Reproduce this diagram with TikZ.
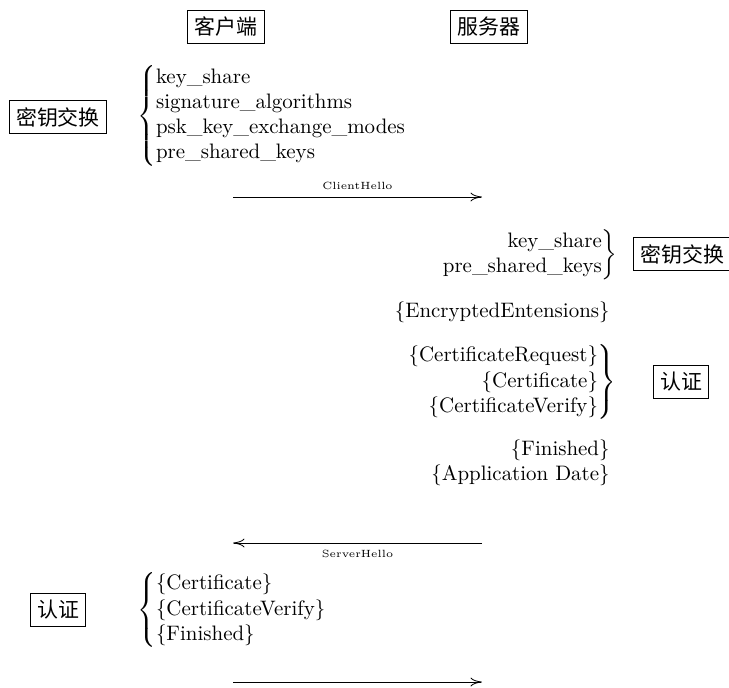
\documentclass[tikz,border=0pt]{standalone}
\usepackage{fontspec}
\usepackage{amsmath}
\newfontfamily\cjk{Noto Sans CJK SC}
\usetikzlibrary{arrows.meta}
\begin{document}
\begin{tikzpicture}[x=0.478pt,y=-0.478pt,
  cjkbox/.style={draw, font=\cjk, inner sep=3.33pt},
  txt/.style={inner sep=0pt},
  msg/.style={-{To[length=5.5pt,width=4.2pt]}},
  lbl/.style={font=\tiny}]
\useasboundingbox (0,0) rectangle (729,687);
% headers
\node[cjkbox] (client) at (226,27) {客户端};
\node[cjkbox] (server) at (489,27) {服务器};
% client hello
\node[cjkbox] (kx1) at (58,117) {密钥交换};
\node[txt, anchor=west] (ext1) at (137,116) {$\left\{\begin{array}{@{}l@{}}\text{key\_share}\\ \text{signature\_algorithms}\\ \text{psk\_key\_exchange\_modes}\\ \text{pre\_shared\_keys}\end{array}\right.$};
\coordinate (m1s) at (233,197);
\coordinate (m1e) at (482,197);
\draw[msg] (m1s) -- node[lbl, above] (lch) {ClientHello} (m1e);
% server side
\node[txt, anchor=east] (ext2) at (618,255) {$\left.\begin{array}{@{}r@{}}\text{key\_share}\\ \text{pre\_shared\_keys}\end{array}\right\}$};
\node[cjkbox, anchor=west] (kx2) at (633,254) {密钥交换};
\node[txt, anchor=east] (ee) at (610,312) {\{EncryptedEntensions\}};
\node[txt, anchor=east] (cert2) at (617,382) {$\left.\begin{array}{@{}r@{}}\text{\{CertificateRequest\}}\\ \text{\{Certificate\}}\\ \text{\{CertificateVerify\}}\end{array}\right\}$};
\node[cjkbox] (auth2) at (681,382) {认证};
\node[txt, anchor=east] (fin2) at (610,450) {\{Finished\}};
\node[txt, anchor=east] (app) at (610,475) {\{Application Date\}};
\coordinate (m2s) at (482,543);
\coordinate (m2e) at (233,543);
\draw[msg] (m2s) -- node[lbl, below] (lsh) {ServerHello} (m2e);
% client finished
\node[cjkbox] (auth1) at (58,610) {认证};
\node[txt, anchor=west] (cert1) at (137,610) {$\left\{\begin{array}{@{}l@{}}\text{\{Certificate\}}\\ \text{\{CertificateVerify\}}\\ \text{\{Finished\}}\end{array}\right.$};
\coordinate (m3s) at (233,682);
\coordinate (m3e) at (482,682);
\draw[msg] (m3s) -- (m3e);
\end{tikzpicture}
\end{document}
